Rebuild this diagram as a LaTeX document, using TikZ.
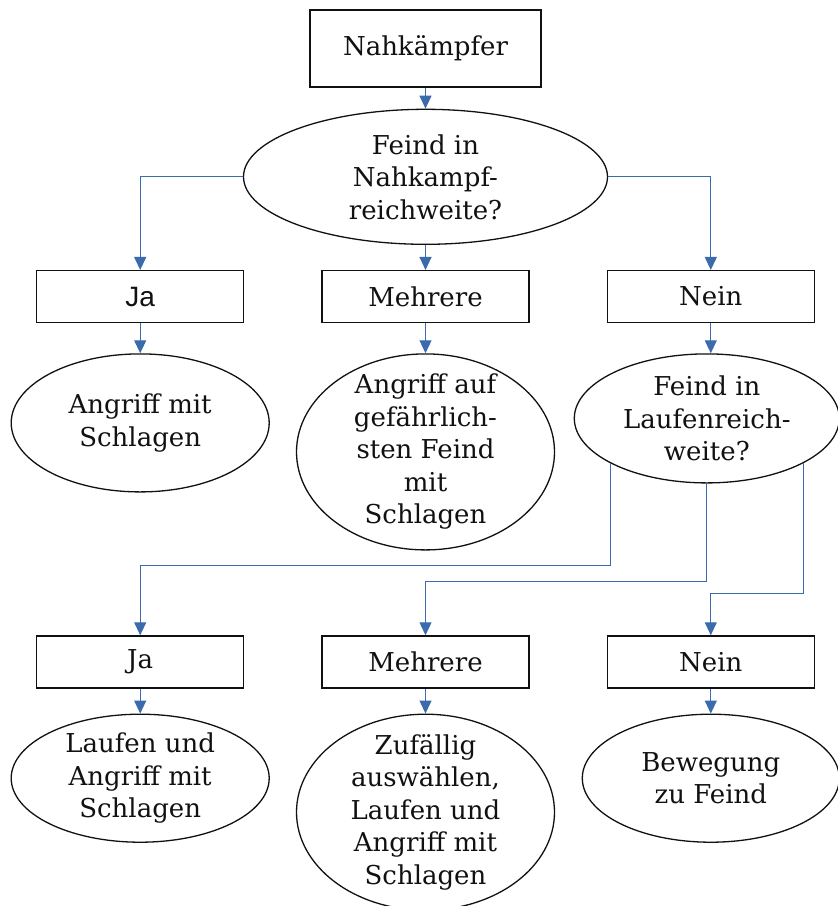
\documentclass[tikz,border=0pt]{standalone}
\usepackage{fontspec}
\setmainfont{DejaVu Serif}
\newfontfamily\labelsans{Liberation Sans}
\usetikzlibrary{arrows.meta,positioning,calc,shapes.geometric}
\usepackage{xcolor}
\definecolor{flow}{HTML}{3A6BAD}
\definecolor{ink}{HTML}{111111}
\tikzset{
  every node/.style={font=\fontsize{26}{32.5}\selectfont,text=ink},
  box/.style={draw=ink,line width=1.3pt,minimum width=207pt,minimum height=52pt,align=center,inner sep=0pt},
  topbox/.style={box,minimum width=231pt,minimum height=77pt},
  choice/.style={draw=ink,line width=1.3pt,ellipse,align=center,inner sep=-40pt},
  arrow/.style={-{Triangle[width=12pt,length=13pt]},line width=1.2pt,draw=flow},
}
\begin{document}
\begin{tikzpicture}[x=1pt,y=1pt]
\useasboundingbox (0,0) rectangle (838,-906);

\node[topbox] (start) at (425.5,-48.5) {Nahkämpfer};
\node[choice,minimum width=364pt,minimum height=135pt,below=21pt of start] (melee) {Feind in\\Nahkampf-\\reichweite?};

% erste Verzweigung
\node[box,below=25pt of melee] (multi1) {Mehrere};
\node[box,left=77pt of multi1] (yes1) {\labelsans\fontsize{28}{32.5}\selectfont Ja};
\node[box,right=77pt of multi1] (no1) {Nein};

\node[choice,minimum width=258pt,minimum height=138pt,below=30pt of yes1] (hit) {Angriff mit\\Schlagen};
\node[choice,minimum width=258pt,minimum height=196pt,below=30pt of multi1] (hitbest) {Angriff auf\\gefährlich-\\sten Feind\\mit\\Schlagen};
\node[choice,minimum width=265pt,minimum height=129pt,below=30pt of no1,xshift=-4pt] (reach) {Feind in\\Laufenreich-\\weite?};

% zweite Verzweigung
\node[box,below=312pt of multi1] (multi2) {Mehrere};
\node[box,left=77pt of multi2] (yes2) {Ja};
\node[box,right=77pt of multi2] (no2) {Nein};

\node[choice,minimum width=258pt,minimum height=128pt,below=25pt of yes2] (runhit) {Laufen und\\Angriff mit\\Schlagen};
\node[choice,minimum width=258pt,minimum height=196pt,below=25pt of multi2] (pick) {Zufällig\\auswählen,\\Laufen und\\Angriff mit\\Schlagen};
\node[choice,minimum width=257pt,minimum height=128pt,below=25pt of no2] (move) {Bewegung\\zu Feind};

\draw[arrow] (start) -- (melee);
\draw[arrow] (melee.west) -| (yes1.north);
\draw[arrow] (melee) -- (multi1);
\draw[arrow] (melee.east) -| (no1.north);

\draw[arrow] (yes1) -- (hit);
\draw[arrow] (multi1) -- (hitbest);
\draw[arrow] (no1) -- (no1 |- reach.north);

\draw[arrow] (reach.205) |- ($(yes2.north)+(0,70pt)$) -- (yes2.north);
\draw[arrow] (reach.south) |- ($(multi2.north)+(0,54pt)$) -- (multi2.north);
\draw[arrow] (reach.335) |- ($(no2.north)+(0,42pt)$) -- (no2.north);

\draw[arrow] (yes2) -- (runhit);
\draw[arrow] (multi2) -- (pick);
\draw[arrow] (no2) -- (move);

\end{tikzpicture}
\end{document}
